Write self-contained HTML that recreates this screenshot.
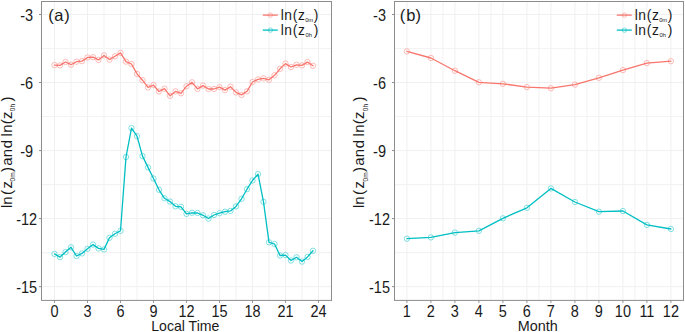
<!DOCTYPE html>
<html><head><meta charset="utf-8"><style>
html,body{margin:0;padding:0;background:#fff;}
body{width:685px;height:332px;overflow:hidden;}
svg{display:block;font-family:"Liberation Sans",sans-serif;}
</style></head><body>
<svg width="685" height="332" viewBox="0 0 685 332">
<rect width="685" height="332" fill="#fff"/>
<line x1="41.5" y1="48.52" x2="331.5" y2="48.52" stroke="#F3F3F3" stroke-width="1.1"/>
<line x1="41.5" y1="116.56" x2="331.5" y2="116.56" stroke="#F3F3F3" stroke-width="1.1"/>
<line x1="41.5" y1="184.60" x2="331.5" y2="184.60" stroke="#F3F3F3" stroke-width="1.1"/>
<line x1="41.5" y1="252.64" x2="331.5" y2="252.64" stroke="#F3F3F3" stroke-width="1.1"/>
<line x1="71.00" y1="1.5" x2="71.00" y2="300.4" stroke="#F3F3F3" stroke-width="1.1"/>
<line x1="104.00" y1="1.5" x2="104.00" y2="300.4" stroke="#F3F3F3" stroke-width="1.1"/>
<line x1="137.00" y1="1.5" x2="137.00" y2="300.4" stroke="#F3F3F3" stroke-width="1.1"/>
<line x1="170.00" y1="1.5" x2="170.00" y2="300.4" stroke="#F3F3F3" stroke-width="1.1"/>
<line x1="203.00" y1="1.5" x2="203.00" y2="300.4" stroke="#F3F3F3" stroke-width="1.1"/>
<line x1="236.00" y1="1.5" x2="236.00" y2="300.4" stroke="#F3F3F3" stroke-width="1.1"/>
<line x1="269.00" y1="1.5" x2="269.00" y2="300.4" stroke="#F3F3F3" stroke-width="1.1"/>
<line x1="302.00" y1="1.5" x2="302.00" y2="300.4" stroke="#F3F3F3" stroke-width="1.1"/>
<line x1="41.5" y1="14.50" x2="331.5" y2="14.50" stroke="#F0F0F0" stroke-width="1"/>
<line x1="41.5" y1="82.54" x2="331.5" y2="82.54" stroke="#F0F0F0" stroke-width="1"/>
<line x1="41.5" y1="150.58" x2="331.5" y2="150.58" stroke="#F0F0F0" stroke-width="1"/>
<line x1="41.5" y1="218.62" x2="331.5" y2="218.62" stroke="#F0F0F0" stroke-width="1"/>
<line x1="41.5" y1="286.66" x2="331.5" y2="286.66" stroke="#F0F0F0" stroke-width="1"/>
<line x1="54.50" y1="1.5" x2="54.50" y2="300.4" stroke="#F0F0F0" stroke-width="1"/>
<line x1="87.50" y1="1.5" x2="87.50" y2="300.4" stroke="#F0F0F0" stroke-width="1"/>
<line x1="120.50" y1="1.5" x2="120.50" y2="300.4" stroke="#F0F0F0" stroke-width="1"/>
<line x1="153.50" y1="1.5" x2="153.50" y2="300.4" stroke="#F0F0F0" stroke-width="1"/>
<line x1="186.50" y1="1.5" x2="186.50" y2="300.4" stroke="#F0F0F0" stroke-width="1"/>
<line x1="219.50" y1="1.5" x2="219.50" y2="300.4" stroke="#F0F0F0" stroke-width="1"/>
<line x1="252.50" y1="1.5" x2="252.50" y2="300.4" stroke="#F0F0F0" stroke-width="1"/>
<line x1="285.50" y1="1.5" x2="285.50" y2="300.4" stroke="#F0F0F0" stroke-width="1"/>
<line x1="318.50" y1="1.5" x2="318.50" y2="300.4" stroke="#F0F0F0" stroke-width="1"/>
<line x1="39.0" y1="14.50" x2="41.5" y2="14.50" stroke="#8C8C8C" stroke-width="1"/>
<text transform="translate(26.7,20.70) scale(1,1.12)" text-anchor="middle" font-size="14.5" fill="#1A1A1A">-3</text>
<line x1="39.0" y1="82.54" x2="41.5" y2="82.54" stroke="#8C8C8C" stroke-width="1"/>
<text transform="translate(26.7,88.74) scale(1,1.12)" text-anchor="middle" font-size="14.5" fill="#1A1A1A">-6</text>
<line x1="39.0" y1="150.58" x2="41.5" y2="150.58" stroke="#8C8C8C" stroke-width="1"/>
<text transform="translate(26.7,156.78) scale(1,1.12)" text-anchor="middle" font-size="14.5" fill="#1A1A1A">-9</text>
<line x1="39.0" y1="218.62" x2="41.5" y2="218.62" stroke="#8C8C8C" stroke-width="1"/>
<text transform="translate(26.7,224.82) scale(1,1.12)" text-anchor="middle" font-size="14.5" fill="#1A1A1A">-12</text>
<line x1="39.0" y1="286.66" x2="41.5" y2="286.66" stroke="#8C8C8C" stroke-width="1"/>
<text transform="translate(26.7,292.86) scale(1,1.12)" text-anchor="middle" font-size="14.5" fill="#1A1A1A">-15</text>
<line x1="54.50" y1="300.4" x2="54.50" y2="302.79999999999995" stroke="#8C8C8C" stroke-width="1"/>
<text transform="translate(54.50,317.2) scale(1,1.12)" text-anchor="middle" font-size="14.5" fill="#1A1A1A">0</text>
<line x1="87.50" y1="300.4" x2="87.50" y2="302.79999999999995" stroke="#8C8C8C" stroke-width="1"/>
<text transform="translate(87.50,317.2) scale(1,1.12)" text-anchor="middle" font-size="14.5" fill="#1A1A1A">3</text>
<line x1="120.50" y1="300.4" x2="120.50" y2="302.79999999999995" stroke="#8C8C8C" stroke-width="1"/>
<text transform="translate(120.50,317.2) scale(1,1.12)" text-anchor="middle" font-size="14.5" fill="#1A1A1A">6</text>
<line x1="153.50" y1="300.4" x2="153.50" y2="302.79999999999995" stroke="#8C8C8C" stroke-width="1"/>
<text transform="translate(153.50,317.2) scale(1,1.12)" text-anchor="middle" font-size="14.5" fill="#1A1A1A">9</text>
<line x1="186.50" y1="300.4" x2="186.50" y2="302.79999999999995" stroke="#8C8C8C" stroke-width="1"/>
<text transform="translate(186.50,317.2) scale(1,1.12)" text-anchor="middle" font-size="14.5" fill="#1A1A1A">12</text>
<line x1="219.50" y1="300.4" x2="219.50" y2="302.79999999999995" stroke="#8C8C8C" stroke-width="1"/>
<text transform="translate(219.50,317.2) scale(1,1.12)" text-anchor="middle" font-size="14.5" fill="#1A1A1A">15</text>
<line x1="252.50" y1="300.4" x2="252.50" y2="302.79999999999995" stroke="#8C8C8C" stroke-width="1"/>
<text transform="translate(252.50,317.2) scale(1,1.12)" text-anchor="middle" font-size="14.5" fill="#1A1A1A">18</text>
<line x1="285.50" y1="300.4" x2="285.50" y2="302.79999999999995" stroke="#8C8C8C" stroke-width="1"/>
<text transform="translate(285.50,317.2) scale(1,1.12)" text-anchor="middle" font-size="14.5" fill="#1A1A1A">21</text>
<line x1="318.50" y1="300.4" x2="318.50" y2="302.79999999999995" stroke="#8C8C8C" stroke-width="1"/>
<text transform="translate(318.50,317.2) scale(1,1.12)" text-anchor="middle" font-size="14.5" fill="#1A1A1A">24</text>
<text transform="translate(185.3,331.0) scale(1,1.05)" text-anchor="middle" font-size="14.1" fill="#1A1A1A">Local Time</text>
<text x="48.19" y="20.8" font-size="16.5" fill="#1A1A1A">(</text>
<text x="54.16" y="20.8" font-size="16.5" fill="#1A1A1A">a</text>
<text x="64.32" y="20.8" font-size="16.5" fill="#1A1A1A">)</text>
<line x1="394.5" y1="48.52" x2="683.5" y2="48.52" stroke="#F3F3F3" stroke-width="1.1"/>
<line x1="394.5" y1="116.56" x2="683.5" y2="116.56" stroke="#F3F3F3" stroke-width="1.1"/>
<line x1="394.5" y1="184.60" x2="683.5" y2="184.60" stroke="#F3F3F3" stroke-width="1.1"/>
<line x1="394.5" y1="252.64" x2="683.5" y2="252.64" stroke="#F3F3F3" stroke-width="1.1"/>
<line x1="442.90" y1="1.5" x2="442.90" y2="300.4" stroke="#F3F3F3" stroke-width="1.1"/>
<line x1="490.90" y1="1.5" x2="490.90" y2="300.4" stroke="#F3F3F3" stroke-width="1.1"/>
<line x1="538.90" y1="1.5" x2="538.90" y2="300.4" stroke="#F3F3F3" stroke-width="1.1"/>
<line x1="586.90" y1="1.5" x2="586.90" y2="300.4" stroke="#F3F3F3" stroke-width="1.1"/>
<line x1="634.90" y1="1.5" x2="634.90" y2="300.4" stroke="#F3F3F3" stroke-width="1.1"/>
<line x1="394.5" y1="14.50" x2="683.5" y2="14.50" stroke="#F0F0F0" stroke-width="1"/>
<line x1="394.5" y1="82.54" x2="683.5" y2="82.54" stroke="#F0F0F0" stroke-width="1"/>
<line x1="394.5" y1="150.58" x2="683.5" y2="150.58" stroke="#F0F0F0" stroke-width="1"/>
<line x1="394.5" y1="218.62" x2="683.5" y2="218.62" stroke="#F0F0F0" stroke-width="1"/>
<line x1="394.5" y1="286.66" x2="683.5" y2="286.66" stroke="#F0F0F0" stroke-width="1"/>
<line x1="406.90" y1="1.5" x2="406.90" y2="300.4" stroke="#F0F0F0" stroke-width="1"/>
<line x1="430.90" y1="1.5" x2="430.90" y2="300.4" stroke="#F0F0F0" stroke-width="1"/>
<line x1="454.90" y1="1.5" x2="454.90" y2="300.4" stroke="#F0F0F0" stroke-width="1"/>
<line x1="478.90" y1="1.5" x2="478.90" y2="300.4" stroke="#F0F0F0" stroke-width="1"/>
<line x1="502.90" y1="1.5" x2="502.90" y2="300.4" stroke="#F0F0F0" stroke-width="1"/>
<line x1="526.90" y1="1.5" x2="526.90" y2="300.4" stroke="#F0F0F0" stroke-width="1"/>
<line x1="550.90" y1="1.5" x2="550.90" y2="300.4" stroke="#F0F0F0" stroke-width="1"/>
<line x1="574.90" y1="1.5" x2="574.90" y2="300.4" stroke="#F0F0F0" stroke-width="1"/>
<line x1="598.90" y1="1.5" x2="598.90" y2="300.4" stroke="#F0F0F0" stroke-width="1"/>
<line x1="622.90" y1="1.5" x2="622.90" y2="300.4" stroke="#F0F0F0" stroke-width="1"/>
<line x1="646.90" y1="1.5" x2="646.90" y2="300.4" stroke="#F0F0F0" stroke-width="1"/>
<line x1="670.90" y1="1.5" x2="670.90" y2="300.4" stroke="#F0F0F0" stroke-width="1"/>
<line x1="392.0" y1="14.50" x2="394.5" y2="14.50" stroke="#8C8C8C" stroke-width="1"/>
<text transform="translate(379.5,20.70) scale(1,1.12)" text-anchor="middle" font-size="14.5" fill="#1A1A1A">-3</text>
<line x1="392.0" y1="82.54" x2="394.5" y2="82.54" stroke="#8C8C8C" stroke-width="1"/>
<text transform="translate(379.5,88.74) scale(1,1.12)" text-anchor="middle" font-size="14.5" fill="#1A1A1A">-6</text>
<line x1="392.0" y1="150.58" x2="394.5" y2="150.58" stroke="#8C8C8C" stroke-width="1"/>
<text transform="translate(379.5,156.78) scale(1,1.12)" text-anchor="middle" font-size="14.5" fill="#1A1A1A">-9</text>
<line x1="392.0" y1="218.62" x2="394.5" y2="218.62" stroke="#8C8C8C" stroke-width="1"/>
<text transform="translate(379.5,224.82) scale(1,1.12)" text-anchor="middle" font-size="14.5" fill="#1A1A1A">-12</text>
<line x1="392.0" y1="286.66" x2="394.5" y2="286.66" stroke="#8C8C8C" stroke-width="1"/>
<text transform="translate(379.5,292.86) scale(1,1.12)" text-anchor="middle" font-size="14.5" fill="#1A1A1A">-15</text>
<line x1="406.90" y1="300.4" x2="406.90" y2="302.79999999999995" stroke="#8C8C8C" stroke-width="1"/>
<text transform="translate(406.90,317.2) scale(1,1.12)" text-anchor="middle" font-size="14.5" fill="#1A1A1A">1</text>
<line x1="430.90" y1="300.4" x2="430.90" y2="302.79999999999995" stroke="#8C8C8C" stroke-width="1"/>
<text transform="translate(430.90,317.2) scale(1,1.12)" text-anchor="middle" font-size="14.5" fill="#1A1A1A">2</text>
<line x1="454.90" y1="300.4" x2="454.90" y2="302.79999999999995" stroke="#8C8C8C" stroke-width="1"/>
<text transform="translate(454.90,317.2) scale(1,1.12)" text-anchor="middle" font-size="14.5" fill="#1A1A1A">3</text>
<line x1="478.90" y1="300.4" x2="478.90" y2="302.79999999999995" stroke="#8C8C8C" stroke-width="1"/>
<text transform="translate(478.90,317.2) scale(1,1.12)" text-anchor="middle" font-size="14.5" fill="#1A1A1A">4</text>
<line x1="502.90" y1="300.4" x2="502.90" y2="302.79999999999995" stroke="#8C8C8C" stroke-width="1"/>
<text transform="translate(502.90,317.2) scale(1,1.12)" text-anchor="middle" font-size="14.5" fill="#1A1A1A">5</text>
<line x1="526.90" y1="300.4" x2="526.90" y2="302.79999999999995" stroke="#8C8C8C" stroke-width="1"/>
<text transform="translate(526.90,317.2) scale(1,1.12)" text-anchor="middle" font-size="14.5" fill="#1A1A1A">6</text>
<line x1="550.90" y1="300.4" x2="550.90" y2="302.79999999999995" stroke="#8C8C8C" stroke-width="1"/>
<text transform="translate(550.90,317.2) scale(1,1.12)" text-anchor="middle" font-size="14.5" fill="#1A1A1A">7</text>
<line x1="574.90" y1="300.4" x2="574.90" y2="302.79999999999995" stroke="#8C8C8C" stroke-width="1"/>
<text transform="translate(574.90,317.2) scale(1,1.12)" text-anchor="middle" font-size="14.5" fill="#1A1A1A">8</text>
<line x1="598.90" y1="300.4" x2="598.90" y2="302.79999999999995" stroke="#8C8C8C" stroke-width="1"/>
<text transform="translate(598.90,317.2) scale(1,1.12)" text-anchor="middle" font-size="14.5" fill="#1A1A1A">9</text>
<line x1="622.90" y1="300.4" x2="622.90" y2="302.79999999999995" stroke="#8C8C8C" stroke-width="1"/>
<text transform="translate(622.90,317.2) scale(1,1.12)" text-anchor="middle" font-size="14.5" fill="#1A1A1A">10</text>
<line x1="646.90" y1="300.4" x2="646.90" y2="302.79999999999995" stroke="#8C8C8C" stroke-width="1"/>
<text transform="translate(646.90,317.2) scale(1,1.12)" text-anchor="middle" font-size="14.5" fill="#1A1A1A">11</text>
<line x1="670.90" y1="300.4" x2="670.90" y2="302.79999999999995" stroke="#8C8C8C" stroke-width="1"/>
<text transform="translate(670.90,317.2) scale(1,1.12)" text-anchor="middle" font-size="14.5" fill="#1A1A1A">12</text>
<text transform="translate(537.8,331.0) scale(1,1.05)" text-anchor="middle" font-size="14.4" fill="#1A1A1A">Month</text>
<text x="399.79" y="20.8" font-size="16.5" fill="#1A1A1A">(</text>
<text x="406.13" y="20.8" font-size="16.5" fill="#1A1A1A">b</text>
<text x="415.62" y="20.8" font-size="16.5" fill="#1A1A1A">)</text>
<polyline points="54.50,65.10 60.00,65.40 65.50,62.00 71.00,64.70 76.50,61.70 82.00,61.10 87.50,57.50 93.00,57.20 98.50,59.90 104.00,55.40 109.50,59.60 115.00,56.30 120.50,52.90 126.00,61.60 131.50,64.00 137.00,73.90 142.50,80.20 148.00,87.40 153.50,85.10 159.00,91.50 164.50,88.70 170.00,95.80 175.50,91.40 181.00,93.30 186.50,86.20 192.00,82.30 197.50,88.90 203.00,85.60 208.50,89.00 214.00,89.00 219.50,87.10 225.00,90.10 230.50,86.70 236.00,92.40 241.50,94.90 247.00,91.30 252.50,82.00 258.00,79.40 263.50,78.30 269.00,79.80 274.50,75.30 280.00,68.80 285.50,63.60 291.00,67.00 296.50,64.80 302.00,65.40 307.50,62.10 313.00,65.80" fill="none" stroke="#F8766D" stroke-width="1.3" stroke-linejoin="round" stroke-linecap="round"/>
<circle cx="54.50" cy="65.10" r="2.7" fill="none" stroke="#F8766D" stroke-opacity="0.6" stroke-width="0.8"/>
<circle cx="60.00" cy="65.40" r="2.7" fill="none" stroke="#F8766D" stroke-opacity="0.6" stroke-width="0.8"/>
<circle cx="65.50" cy="62.00" r="2.7" fill="none" stroke="#F8766D" stroke-opacity="0.6" stroke-width="0.8"/>
<circle cx="71.00" cy="64.70" r="2.7" fill="none" stroke="#F8766D" stroke-opacity="0.6" stroke-width="0.8"/>
<circle cx="76.50" cy="61.70" r="2.7" fill="none" stroke="#F8766D" stroke-opacity="0.6" stroke-width="0.8"/>
<circle cx="82.00" cy="61.10" r="2.7" fill="none" stroke="#F8766D" stroke-opacity="0.6" stroke-width="0.8"/>
<circle cx="87.50" cy="57.50" r="2.7" fill="none" stroke="#F8766D" stroke-opacity="0.6" stroke-width="0.8"/>
<circle cx="93.00" cy="57.20" r="2.7" fill="none" stroke="#F8766D" stroke-opacity="0.6" stroke-width="0.8"/>
<circle cx="98.50" cy="59.90" r="2.7" fill="none" stroke="#F8766D" stroke-opacity="0.6" stroke-width="0.8"/>
<circle cx="104.00" cy="55.40" r="2.7" fill="none" stroke="#F8766D" stroke-opacity="0.6" stroke-width="0.8"/>
<circle cx="109.50" cy="59.60" r="2.7" fill="none" stroke="#F8766D" stroke-opacity="0.6" stroke-width="0.8"/>
<circle cx="115.00" cy="56.30" r="2.7" fill="none" stroke="#F8766D" stroke-opacity="0.6" stroke-width="0.8"/>
<circle cx="120.50" cy="52.90" r="2.7" fill="none" stroke="#F8766D" stroke-opacity="0.6" stroke-width="0.8"/>
<circle cx="126.00" cy="61.60" r="2.7" fill="none" stroke="#F8766D" stroke-opacity="0.6" stroke-width="0.8"/>
<circle cx="131.50" cy="64.00" r="2.7" fill="none" stroke="#F8766D" stroke-opacity="0.6" stroke-width="0.8"/>
<circle cx="137.00" cy="73.90" r="2.7" fill="none" stroke="#F8766D" stroke-opacity="0.6" stroke-width="0.8"/>
<circle cx="142.50" cy="80.20" r="2.7" fill="none" stroke="#F8766D" stroke-opacity="0.6" stroke-width="0.8"/>
<circle cx="148.00" cy="87.40" r="2.7" fill="none" stroke="#F8766D" stroke-opacity="0.6" stroke-width="0.8"/>
<circle cx="153.50" cy="85.10" r="2.7" fill="none" stroke="#F8766D" stroke-opacity="0.6" stroke-width="0.8"/>
<circle cx="159.00" cy="91.50" r="2.7" fill="none" stroke="#F8766D" stroke-opacity="0.6" stroke-width="0.8"/>
<circle cx="164.50" cy="88.70" r="2.7" fill="none" stroke="#F8766D" stroke-opacity="0.6" stroke-width="0.8"/>
<circle cx="170.00" cy="95.80" r="2.7" fill="none" stroke="#F8766D" stroke-opacity="0.6" stroke-width="0.8"/>
<circle cx="175.50" cy="91.40" r="2.7" fill="none" stroke="#F8766D" stroke-opacity="0.6" stroke-width="0.8"/>
<circle cx="181.00" cy="93.30" r="2.7" fill="none" stroke="#F8766D" stroke-opacity="0.6" stroke-width="0.8"/>
<circle cx="186.50" cy="86.20" r="2.7" fill="none" stroke="#F8766D" stroke-opacity="0.6" stroke-width="0.8"/>
<circle cx="192.00" cy="82.30" r="2.7" fill="none" stroke="#F8766D" stroke-opacity="0.6" stroke-width="0.8"/>
<circle cx="197.50" cy="88.90" r="2.7" fill="none" stroke="#F8766D" stroke-opacity="0.6" stroke-width="0.8"/>
<circle cx="203.00" cy="85.60" r="2.7" fill="none" stroke="#F8766D" stroke-opacity="0.6" stroke-width="0.8"/>
<circle cx="208.50" cy="89.00" r="2.7" fill="none" stroke="#F8766D" stroke-opacity="0.6" stroke-width="0.8"/>
<circle cx="214.00" cy="89.00" r="2.7" fill="none" stroke="#F8766D" stroke-opacity="0.6" stroke-width="0.8"/>
<circle cx="219.50" cy="87.10" r="2.7" fill="none" stroke="#F8766D" stroke-opacity="0.6" stroke-width="0.8"/>
<circle cx="225.00" cy="90.10" r="2.7" fill="none" stroke="#F8766D" stroke-opacity="0.6" stroke-width="0.8"/>
<circle cx="230.50" cy="86.70" r="2.7" fill="none" stroke="#F8766D" stroke-opacity="0.6" stroke-width="0.8"/>
<circle cx="236.00" cy="92.40" r="2.7" fill="none" stroke="#F8766D" stroke-opacity="0.6" stroke-width="0.8"/>
<circle cx="241.50" cy="94.90" r="2.7" fill="none" stroke="#F8766D" stroke-opacity="0.6" stroke-width="0.8"/>
<circle cx="247.00" cy="91.30" r="2.7" fill="none" stroke="#F8766D" stroke-opacity="0.6" stroke-width="0.8"/>
<circle cx="252.50" cy="82.00" r="2.7" fill="none" stroke="#F8766D" stroke-opacity="0.6" stroke-width="0.8"/>
<circle cx="258.00" cy="79.40" r="2.7" fill="none" stroke="#F8766D" stroke-opacity="0.6" stroke-width="0.8"/>
<circle cx="263.50" cy="78.30" r="2.7" fill="none" stroke="#F8766D" stroke-opacity="0.6" stroke-width="0.8"/>
<circle cx="269.00" cy="79.80" r="2.7" fill="none" stroke="#F8766D" stroke-opacity="0.6" stroke-width="0.8"/>
<circle cx="274.50" cy="75.30" r="2.7" fill="none" stroke="#F8766D" stroke-opacity="0.6" stroke-width="0.8"/>
<circle cx="280.00" cy="68.80" r="2.7" fill="none" stroke="#F8766D" stroke-opacity="0.6" stroke-width="0.8"/>
<circle cx="285.50" cy="63.60" r="2.7" fill="none" stroke="#F8766D" stroke-opacity="0.6" stroke-width="0.8"/>
<circle cx="291.00" cy="67.00" r="2.7" fill="none" stroke="#F8766D" stroke-opacity="0.6" stroke-width="0.8"/>
<circle cx="296.50" cy="64.80" r="2.7" fill="none" stroke="#F8766D" stroke-opacity="0.6" stroke-width="0.8"/>
<circle cx="302.00" cy="65.40" r="2.7" fill="none" stroke="#F8766D" stroke-opacity="0.6" stroke-width="0.8"/>
<circle cx="307.50" cy="62.10" r="2.7" fill="none" stroke="#F8766D" stroke-opacity="0.6" stroke-width="0.8"/>
<circle cx="313.00" cy="65.80" r="2.7" fill="none" stroke="#F8766D" stroke-opacity="0.6" stroke-width="0.8"/>
<polyline points="54.50,253.90 60.00,257.10 65.50,252.10 71.00,247.30 76.50,256.00 82.00,253.40 87.50,248.80 93.00,244.60 98.50,248.40 104.00,249.40 109.50,237.80 115.00,233.80 120.50,230.80 126.00,157.00 131.50,128.10 137.00,136.20 142.50,156.10 148.00,167.40 153.50,178.50 159.00,189.80 164.50,198.30 170.00,201.60 175.50,206.30 181.00,206.80 186.50,213.90 192.00,212.80 197.50,213.00 203.00,215.30 208.50,218.50 214.00,215.00 219.50,213.20 225.00,211.70 230.50,210.90 236.00,206.40 241.50,198.80 247.00,189.20 252.50,180.50 258.00,174.10 263.50,201.80 269.00,242.30 274.50,244.00 280.00,255.50 285.50,255.10 291.00,260.50 296.50,257.30 302.00,261.60 307.50,256.90 313.00,250.80" fill="none" stroke="#00BFC4" stroke-width="1.3" stroke-linejoin="round" stroke-linecap="round"/>
<circle cx="54.50" cy="253.90" r="2.7" fill="none" stroke="#00BFC4" stroke-opacity="0.6" stroke-width="0.8"/>
<circle cx="60.00" cy="257.10" r="2.7" fill="none" stroke="#00BFC4" stroke-opacity="0.6" stroke-width="0.8"/>
<circle cx="65.50" cy="252.10" r="2.7" fill="none" stroke="#00BFC4" stroke-opacity="0.6" stroke-width="0.8"/>
<circle cx="71.00" cy="247.30" r="2.7" fill="none" stroke="#00BFC4" stroke-opacity="0.6" stroke-width="0.8"/>
<circle cx="76.50" cy="256.00" r="2.7" fill="none" stroke="#00BFC4" stroke-opacity="0.6" stroke-width="0.8"/>
<circle cx="82.00" cy="253.40" r="2.7" fill="none" stroke="#00BFC4" stroke-opacity="0.6" stroke-width="0.8"/>
<circle cx="87.50" cy="248.80" r="2.7" fill="none" stroke="#00BFC4" stroke-opacity="0.6" stroke-width="0.8"/>
<circle cx="93.00" cy="244.60" r="2.7" fill="none" stroke="#00BFC4" stroke-opacity="0.6" stroke-width="0.8"/>
<circle cx="98.50" cy="248.40" r="2.7" fill="none" stroke="#00BFC4" stroke-opacity="0.6" stroke-width="0.8"/>
<circle cx="104.00" cy="249.40" r="2.7" fill="none" stroke="#00BFC4" stroke-opacity="0.6" stroke-width="0.8"/>
<circle cx="109.50" cy="237.80" r="2.7" fill="none" stroke="#00BFC4" stroke-opacity="0.6" stroke-width="0.8"/>
<circle cx="115.00" cy="233.80" r="2.7" fill="none" stroke="#00BFC4" stroke-opacity="0.6" stroke-width="0.8"/>
<circle cx="120.50" cy="230.80" r="2.7" fill="none" stroke="#00BFC4" stroke-opacity="0.6" stroke-width="0.8"/>
<circle cx="126.00" cy="157.00" r="2.7" fill="none" stroke="#00BFC4" stroke-opacity="0.6" stroke-width="0.8"/>
<circle cx="131.50" cy="128.10" r="2.7" fill="none" stroke="#00BFC4" stroke-opacity="0.6" stroke-width="0.8"/>
<circle cx="137.00" cy="136.20" r="2.7" fill="none" stroke="#00BFC4" stroke-opacity="0.6" stroke-width="0.8"/>
<circle cx="142.50" cy="156.10" r="2.7" fill="none" stroke="#00BFC4" stroke-opacity="0.6" stroke-width="0.8"/>
<circle cx="148.00" cy="167.40" r="2.7" fill="none" stroke="#00BFC4" stroke-opacity="0.6" stroke-width="0.8"/>
<circle cx="153.50" cy="178.50" r="2.7" fill="none" stroke="#00BFC4" stroke-opacity="0.6" stroke-width="0.8"/>
<circle cx="159.00" cy="189.80" r="2.7" fill="none" stroke="#00BFC4" stroke-opacity="0.6" stroke-width="0.8"/>
<circle cx="164.50" cy="198.30" r="2.7" fill="none" stroke="#00BFC4" stroke-opacity="0.6" stroke-width="0.8"/>
<circle cx="170.00" cy="201.60" r="2.7" fill="none" stroke="#00BFC4" stroke-opacity="0.6" stroke-width="0.8"/>
<circle cx="175.50" cy="206.30" r="2.7" fill="none" stroke="#00BFC4" stroke-opacity="0.6" stroke-width="0.8"/>
<circle cx="181.00" cy="206.80" r="2.7" fill="none" stroke="#00BFC4" stroke-opacity="0.6" stroke-width="0.8"/>
<circle cx="186.50" cy="213.90" r="2.7" fill="none" stroke="#00BFC4" stroke-opacity="0.6" stroke-width="0.8"/>
<circle cx="192.00" cy="212.80" r="2.7" fill="none" stroke="#00BFC4" stroke-opacity="0.6" stroke-width="0.8"/>
<circle cx="197.50" cy="213.00" r="2.7" fill="none" stroke="#00BFC4" stroke-opacity="0.6" stroke-width="0.8"/>
<circle cx="203.00" cy="215.30" r="2.7" fill="none" stroke="#00BFC4" stroke-opacity="0.6" stroke-width="0.8"/>
<circle cx="208.50" cy="218.50" r="2.7" fill="none" stroke="#00BFC4" stroke-opacity="0.6" stroke-width="0.8"/>
<circle cx="214.00" cy="215.00" r="2.7" fill="none" stroke="#00BFC4" stroke-opacity="0.6" stroke-width="0.8"/>
<circle cx="219.50" cy="213.20" r="2.7" fill="none" stroke="#00BFC4" stroke-opacity="0.6" stroke-width="0.8"/>
<circle cx="225.00" cy="211.70" r="2.7" fill="none" stroke="#00BFC4" stroke-opacity="0.6" stroke-width="0.8"/>
<circle cx="230.50" cy="210.90" r="2.7" fill="none" stroke="#00BFC4" stroke-opacity="0.6" stroke-width="0.8"/>
<circle cx="236.00" cy="206.40" r="2.7" fill="none" stroke="#00BFC4" stroke-opacity="0.6" stroke-width="0.8"/>
<circle cx="241.50" cy="198.80" r="2.7" fill="none" stroke="#00BFC4" stroke-opacity="0.6" stroke-width="0.8"/>
<circle cx="247.00" cy="189.20" r="2.7" fill="none" stroke="#00BFC4" stroke-opacity="0.6" stroke-width="0.8"/>
<circle cx="252.50" cy="180.50" r="2.7" fill="none" stroke="#00BFC4" stroke-opacity="0.6" stroke-width="0.8"/>
<circle cx="258.00" cy="174.10" r="2.7" fill="none" stroke="#00BFC4" stroke-opacity="0.6" stroke-width="0.8"/>
<circle cx="263.50" cy="201.80" r="2.7" fill="none" stroke="#00BFC4" stroke-opacity="0.6" stroke-width="0.8"/>
<circle cx="269.00" cy="242.30" r="2.7" fill="none" stroke="#00BFC4" stroke-opacity="0.6" stroke-width="0.8"/>
<circle cx="274.50" cy="244.00" r="2.7" fill="none" stroke="#00BFC4" stroke-opacity="0.6" stroke-width="0.8"/>
<circle cx="280.00" cy="255.50" r="2.7" fill="none" stroke="#00BFC4" stroke-opacity="0.6" stroke-width="0.8"/>
<circle cx="285.50" cy="255.10" r="2.7" fill="none" stroke="#00BFC4" stroke-opacity="0.6" stroke-width="0.8"/>
<circle cx="291.00" cy="260.50" r="2.7" fill="none" stroke="#00BFC4" stroke-opacity="0.6" stroke-width="0.8"/>
<circle cx="296.50" cy="257.30" r="2.7" fill="none" stroke="#00BFC4" stroke-opacity="0.6" stroke-width="0.8"/>
<circle cx="302.00" cy="261.60" r="2.7" fill="none" stroke="#00BFC4" stroke-opacity="0.6" stroke-width="0.8"/>
<circle cx="307.50" cy="256.90" r="2.7" fill="none" stroke="#00BFC4" stroke-opacity="0.6" stroke-width="0.8"/>
<circle cx="313.00" cy="250.80" r="2.7" fill="none" stroke="#00BFC4" stroke-opacity="0.6" stroke-width="0.8"/>
<polyline points="406.90,51.40 430.90,58.00 454.90,70.70 478.90,82.30 502.90,83.80 526.90,87.10 550.90,88.20 574.90,84.60 598.90,77.80 622.90,70.10 646.90,63.10 670.90,61.20" fill="none" stroke="#F8766D" stroke-width="1.3" stroke-linejoin="round" stroke-linecap="round"/>
<circle cx="406.90" cy="51.40" r="2.7" fill="none" stroke="#F8766D" stroke-opacity="0.6" stroke-width="0.8"/>
<circle cx="430.90" cy="58.00" r="2.7" fill="none" stroke="#F8766D" stroke-opacity="0.6" stroke-width="0.8"/>
<circle cx="454.90" cy="70.70" r="2.7" fill="none" stroke="#F8766D" stroke-opacity="0.6" stroke-width="0.8"/>
<circle cx="478.90" cy="82.30" r="2.7" fill="none" stroke="#F8766D" stroke-opacity="0.6" stroke-width="0.8"/>
<circle cx="502.90" cy="83.80" r="2.7" fill="none" stroke="#F8766D" stroke-opacity="0.6" stroke-width="0.8"/>
<circle cx="526.90" cy="87.10" r="2.7" fill="none" stroke="#F8766D" stroke-opacity="0.6" stroke-width="0.8"/>
<circle cx="550.90" cy="88.20" r="2.7" fill="none" stroke="#F8766D" stroke-opacity="0.6" stroke-width="0.8"/>
<circle cx="574.90" cy="84.60" r="2.7" fill="none" stroke="#F8766D" stroke-opacity="0.6" stroke-width="0.8"/>
<circle cx="598.90" cy="77.80" r="2.7" fill="none" stroke="#F8766D" stroke-opacity="0.6" stroke-width="0.8"/>
<circle cx="622.90" cy="70.10" r="2.7" fill="none" stroke="#F8766D" stroke-opacity="0.6" stroke-width="0.8"/>
<circle cx="646.90" cy="63.10" r="2.7" fill="none" stroke="#F8766D" stroke-opacity="0.6" stroke-width="0.8"/>
<circle cx="670.90" cy="61.20" r="2.7" fill="none" stroke="#F8766D" stroke-opacity="0.6" stroke-width="0.8"/>
<polyline points="406.90,238.70 430.90,237.40 454.90,232.60 478.90,230.80 502.90,218.30 526.90,207.80 550.90,188.40 574.90,202.00 598.90,211.70 622.90,211.00 646.90,224.90 670.90,229.00" fill="none" stroke="#00BFC4" stroke-width="1.3" stroke-linejoin="round" stroke-linecap="round"/>
<circle cx="406.90" cy="238.70" r="2.7" fill="none" stroke="#00BFC4" stroke-opacity="0.6" stroke-width="0.8"/>
<circle cx="430.90" cy="237.40" r="2.7" fill="none" stroke="#00BFC4" stroke-opacity="0.6" stroke-width="0.8"/>
<circle cx="454.90" cy="232.60" r="2.7" fill="none" stroke="#00BFC4" stroke-opacity="0.6" stroke-width="0.8"/>
<circle cx="478.90" cy="230.80" r="2.7" fill="none" stroke="#00BFC4" stroke-opacity="0.6" stroke-width="0.8"/>
<circle cx="502.90" cy="218.30" r="2.7" fill="none" stroke="#00BFC4" stroke-opacity="0.6" stroke-width="0.8"/>
<circle cx="526.90" cy="207.80" r="2.7" fill="none" stroke="#00BFC4" stroke-opacity="0.6" stroke-width="0.8"/>
<circle cx="550.90" cy="188.40" r="2.7" fill="none" stroke="#00BFC4" stroke-opacity="0.6" stroke-width="0.8"/>
<circle cx="574.90" cy="202.00" r="2.7" fill="none" stroke="#00BFC4" stroke-opacity="0.6" stroke-width="0.8"/>
<circle cx="598.90" cy="211.70" r="2.7" fill="none" stroke="#00BFC4" stroke-opacity="0.6" stroke-width="0.8"/>
<circle cx="622.90" cy="211.00" r="2.7" fill="none" stroke="#00BFC4" stroke-opacity="0.6" stroke-width="0.8"/>
<circle cx="646.90" cy="224.90" r="2.7" fill="none" stroke="#00BFC4" stroke-opacity="0.6" stroke-width="0.8"/>
<circle cx="670.90" cy="229.00" r="2.7" fill="none" stroke="#00BFC4" stroke-opacity="0.6" stroke-width="0.8"/>
<rect x="41.5" y="1.5" width="290.0" height="298.9" fill="none" stroke="#8C8C8C" stroke-width="1"/>
<rect x="394.5" y="1.5" width="289.0" height="298.9" fill="none" stroke="#8C8C8C" stroke-width="1"/>
<line x1="262.80" y1="15.10" x2="277.80" y2="15.10" stroke="#F8766D" stroke-width="1.3"/>
<circle cx="270.40" cy="15.10" r="2.2" fill="none" stroke="#F8766D" stroke-opacity="0.6" stroke-width="0.8"/>
<text x="280.86" y="20.00" font-size="13.8" fill="#1A1A1A">l</text>
<text x="284.25" y="20.00" font-size="13.8" fill="#1A1A1A">n</text>
<text x="292.81" y="20.00" font-size="13.8" fill="#1A1A1A">(</text>
<text x="297.91" y="20.00" font-size="13.8" fill="#1A1A1A">z</text>
<text x="305.15" y="22.20" font-size="5.8" fill="#1A1A1A">0m</text>
<text x="313.69" y="20.00" font-size="13.8" fill="#1A1A1A">)</text>
<line x1="262.80" y1="30.10" x2="277.80" y2="30.10" stroke="#00BFC4" stroke-width="1.3"/>
<circle cx="270.40" cy="30.10" r="2.2" fill="none" stroke="#00BFC4" stroke-opacity="0.6" stroke-width="0.8"/>
<text x="280.86" y="35.00" font-size="13.8" fill="#1A1A1A">l</text>
<text x="284.25" y="35.00" font-size="13.8" fill="#1A1A1A">n</text>
<text x="292.81" y="35.00" font-size="13.8" fill="#1A1A1A">(</text>
<text x="297.91" y="35.00" font-size="13.8" fill="#1A1A1A">z</text>
<text x="305.55" y="37.20" font-size="5.8" fill="#1A1A1A">0h</text>
<text x="313.69" y="35.00" font-size="13.8" fill="#1A1A1A">)</text>
<line x1="616.80" y1="15.10" x2="631.80" y2="15.10" stroke="#F8766D" stroke-width="1.3"/>
<circle cx="624.40" cy="15.10" r="2.2" fill="none" stroke="#F8766D" stroke-opacity="0.6" stroke-width="0.8"/>
<text x="634.86" y="20.00" font-size="13.8" fill="#1A1A1A">l</text>
<text x="638.25" y="20.00" font-size="13.8" fill="#1A1A1A">n</text>
<text x="646.81" y="20.00" font-size="13.8" fill="#1A1A1A">(</text>
<text x="651.91" y="20.00" font-size="13.8" fill="#1A1A1A">z</text>
<text x="659.15" y="22.20" font-size="5.8" fill="#1A1A1A">0m</text>
<text x="667.69" y="20.00" font-size="13.8" fill="#1A1A1A">)</text>
<line x1="616.80" y1="30.10" x2="631.80" y2="30.10" stroke="#00BFC4" stroke-width="1.3"/>
<circle cx="624.40" cy="30.10" r="2.2" fill="none" stroke="#00BFC4" stroke-opacity="0.6" stroke-width="0.8"/>
<text x="634.86" y="35.00" font-size="13.8" fill="#1A1A1A">l</text>
<text x="638.25" y="35.00" font-size="13.8" fill="#1A1A1A">n</text>
<text x="646.81" y="35.00" font-size="13.8" fill="#1A1A1A">(</text>
<text x="651.91" y="35.00" font-size="13.8" fill="#1A1A1A">z</text>
<text x="659.55" y="37.20" font-size="5.8" fill="#1A1A1A">0h</text>
<text x="667.69" y="35.00" font-size="13.8" fill="#1A1A1A">)</text>
<text transform="translate(11.60,207.3) rotate(-90)" x="-0.67" y="0.00" font-size="15" fill="#1A1A1A">l</text>
<text transform="translate(11.60,207.3) rotate(-90)" x="2.67" y="0.00" font-size="15" fill="#1A1A1A">n</text>
<text transform="translate(11.60,207.3) rotate(-90)" x="12.23" y="0.00" font-size="15" fill="#1A1A1A">(</text>
<text transform="translate(11.60,207.3) rotate(-90)" x="18.92" y="0.00" font-size="15" fill="#1A1A1A">z</text>
<text transform="translate(11.60,207.3) rotate(-90)" x="25.92" y="3.20" font-size="6.5" fill="#1A1A1A">0m</text>
<text transform="translate(11.60,207.3) rotate(-90)" x="35.22" y="0.00" font-size="15" fill="#1A1A1A">)</text>
<text transform="translate(11.60,207.3) rotate(-90)" x="41.51" y="0.00" font-size="15" fill="#1A1A1A">a</text>
<text transform="translate(11.60,207.3) rotate(-90)" x="50.02" y="0.00" font-size="15" fill="#1A1A1A">n</text>
<text transform="translate(11.60,207.3) rotate(-90)" x="59.00" y="0.00" font-size="15" fill="#1A1A1A">d</text>
<text transform="translate(11.60,207.3) rotate(-90)" x="70.88" y="0.00" font-size="15" fill="#1A1A1A">l</text>
<text transform="translate(11.60,207.3) rotate(-90)" x="74.62" y="0.00" font-size="15" fill="#1A1A1A">n</text>
<text transform="translate(11.60,207.3) rotate(-90)" x="83.18" y="0.00" font-size="15" fill="#1A1A1A">(</text>
<text transform="translate(11.60,207.3) rotate(-90)" x="88.42" y="0.00" font-size="15" fill="#1A1A1A">z</text>
<text transform="translate(11.60,207.3) rotate(-90)" x="96.17" y="3.20" font-size="6.5" fill="#1A1A1A">0h</text>
<text transform="translate(11.60,207.3) rotate(-90)" x="105.82" y="0.00" font-size="15" fill="#1A1A1A">)</text>
<text transform="translate(364.40,207.3) rotate(-90)" x="-0.67" y="0.00" font-size="15" fill="#1A1A1A">l</text>
<text transform="translate(364.40,207.3) rotate(-90)" x="2.67" y="0.00" font-size="15" fill="#1A1A1A">n</text>
<text transform="translate(364.40,207.3) rotate(-90)" x="12.23" y="0.00" font-size="15" fill="#1A1A1A">(</text>
<text transform="translate(364.40,207.3) rotate(-90)" x="18.92" y="0.00" font-size="15" fill="#1A1A1A">z</text>
<text transform="translate(364.40,207.3) rotate(-90)" x="25.92" y="3.20" font-size="6.5" fill="#1A1A1A">0m</text>
<text transform="translate(364.40,207.3) rotate(-90)" x="35.22" y="0.00" font-size="15" fill="#1A1A1A">)</text>
<text transform="translate(364.40,207.3) rotate(-90)" x="41.51" y="0.00" font-size="15" fill="#1A1A1A">a</text>
<text transform="translate(364.40,207.3) rotate(-90)" x="50.02" y="0.00" font-size="15" fill="#1A1A1A">n</text>
<text transform="translate(364.40,207.3) rotate(-90)" x="59.00" y="0.00" font-size="15" fill="#1A1A1A">d</text>
<text transform="translate(364.40,207.3) rotate(-90)" x="70.88" y="0.00" font-size="15" fill="#1A1A1A">l</text>
<text transform="translate(364.40,207.3) rotate(-90)" x="74.62" y="0.00" font-size="15" fill="#1A1A1A">n</text>
<text transform="translate(364.40,207.3) rotate(-90)" x="83.18" y="0.00" font-size="15" fill="#1A1A1A">(</text>
<text transform="translate(364.40,207.3) rotate(-90)" x="88.42" y="0.00" font-size="15" fill="#1A1A1A">z</text>
<text transform="translate(364.40,207.3) rotate(-90)" x="96.17" y="3.20" font-size="6.5" fill="#1A1A1A">0h</text>
<text transform="translate(364.40,207.3) rotate(-90)" x="105.82" y="0.00" font-size="15" fill="#1A1A1A">)</text>
</svg>
</body></html>
